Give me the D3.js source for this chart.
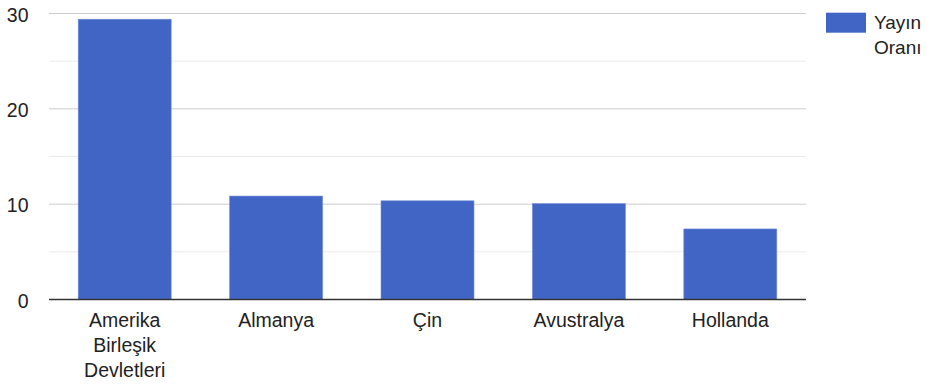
<!DOCTYPE html>
<html>
<head>
<meta charset="utf-8">
<script src="https://cdn.jsdelivr.net/npm/d3@7/dist/d3.min.js"></script>
<style>
  html, body { margin: 0; padding: 0; background: #fff; }
  svg { display: block; font-family: "Liberation Sans", Arial, Helvetica, sans-serif; }
</style>
</head>
<body>
<svg id="chart" width="927" height="384"></svg>
<script>
// Publication share by country
const categories = [
  ["Amerika", "Birleşik", "Devletleri"],
  ["Almanya"],
  ["Çin"],
  ["Avustralya"],
  ["Hollanda"]
];
const seriesName = ["Yayın", "Oranı"];
const values = [29.4, 10.85, 10.35, 10.05, 7.4];
const majorTicks = [0, 10, 20, 30];
const minorTicks = [5, 15, 25];

const svg = d3.select("#chart");
const margin = { left: 49, right: 121, top: 13.5, bottom: 84.5 };
const W = 927, H = 384;
const plotW = W - margin.left - margin.right;
const plotH = H - margin.top - margin.bottom;
const barColor = "#4065c5";

const g = svg.append("g").attr("transform", `translate(${margin.left},${margin.top})`);

const x = d3.scaleBand()
  .domain(d3.range(categories.length))
  .range([0, plotW])
  .paddingInner(0.386)
  .paddingOuter(0.193);

const y = d3.scaleLinear().domain([0, 30]).range([plotH, 0]);

// minor gridlines
g.selectAll("line.minor").data(minorTicks).join("line")
  .attr("class", "minor")
  .attr("x1", 0).attr("x2", plotW)
  .attr("y1", d => y(d)).attr("y2", d => y(d))
  .attr("stroke", "#ebebeb").attr("stroke-width", 1);

// major gridlines
g.selectAll("line.major").data(majorTicks.filter(d => d !== 0)).join("line")
  .attr("class", "major")
  .attr("x1", 0).attr("x2", plotW)
  .attr("y1", d => y(d)).attr("y2", d => y(d))
  .attr("stroke", "#cccccc").attr("stroke-width", 1);

// y axis labels
const yAxis = d3.axisLeft(y).tickValues(majorTicks).tickSize(0).tickPadding(0);
const ya = g.append("g").call(yAxis);
ya.select(".domain").remove();
ya.selectAll("text")
  .attr("x", -20.5)
  .attr("dy", null)
  .attr("y", 7.5)
  .attr("fill", "#222")
  .style("font-size", "19.5px")
  .style("font-family", "'Liberation Sans', Arial, sans-serif");

// bars
g.selectAll("rect.bar").data(values).join("rect")
  .attr("class", "bar")
  .attr("x", (d, i) => x(i))
  .attr("width", x.bandwidth())
  .attr("y", d => y(d))
  .attr("height", d => y(0) - y(d))
  .attr("fill", barColor)
  .attr("stroke", "#6f8ad6")
  .attr("stroke-width", 0.6);

// baseline
g.append("line")
  .attr("x1", 0).attr("x2", plotW)
  .attr("y1", y(0)).attr("y2", y(0))
  .attr("stroke", "#333").attr("stroke-width", 1.4);

// category labels
const xl = g.append("g");
categories.forEach((lines, i) => {
  const t = xl.append("text")
    .attr("text-anchor", "middle")
    .attr("fill", "#222")
    .style("font-size", "19.5px");
  lines.forEach((ln, k) => {
    t.append("tspan")
      .attr("x", x(i) + x.bandwidth() / 2)
      .attr("y", y(0) + 27.2 + k * 25)
      .text(ln);
  });
});

// legend
const lg = svg.append("g");
lg.append("rect")
  .attr("x", 826).attr("y", 12.7)
  .attr("width", 40).attr("height", 20)
  .attr("fill", barColor);
const lt = lg.append("text").attr("fill", "#222").style("font-size", "19px");
seriesName.forEach((ln, k) => {
  lt.append("tspan").attr("x", 874).attr("y", 29.3 + k * 25).text(ln);
});
</script>
</body>
</html>
